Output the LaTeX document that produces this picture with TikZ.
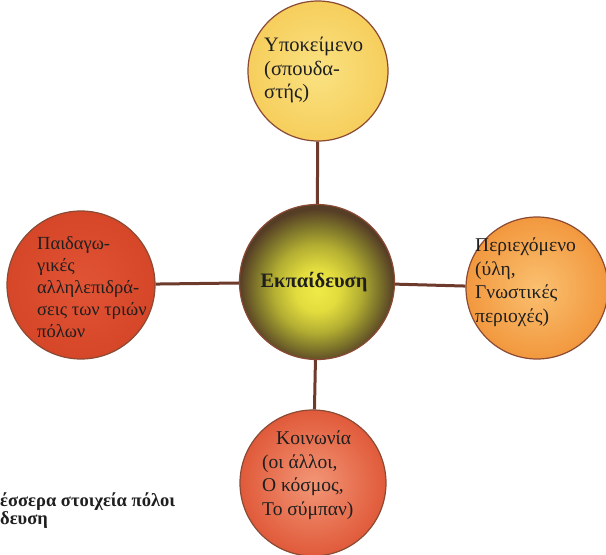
\documentclass[tikz,border=0pt]{standalone}
\usepackage{fontspec}
\setmainfont{Liberation Serif}
\pgfdeclareradialshading{ctrshade}{\pgfpoint{0bp}{-3bp}}{%
  color(0bp)=(rgb,255:red,240;green,234;blue,72);
  color(7bp)=(rgb,255:red,226;green,220;blue,62);
  color(14bp)=(rgb,255:red,180;green,175;blue,50);
  color(20bp)=(rgb,255:red,125;green,116;blue,42);
  color(25bp)=(rgb,255:red,86;green,62;blue,38);
  color(50bp)=(rgb,255:red,86;green,62;blue,38)}
\begin{document}
\begin{tikzpicture}[x=1pt,y=-1pt,
  pole/.style={circle,draw=circbrd,line width=1.2pt,inner sep=0pt,minimum size=#1},
  conn/.style={draw=linebrown,line width=3pt},
  txt/.style={align=left,inner sep=0pt,anchor=west,font=\fontsize{19.5}{23.5}\selectfont,text=black!88}]
\definecolor{linebrown}{HTML}{6E3A2C}
\definecolor{circbrd}{HTML}{8A4A34}
\useasboundingbox (0,0) rectangle (606,555);
\fill[white] (0,0) rectangle (606,555);
% circles
\node[pole=140pt,inner color={rgb,255:red,250;green,226;blue,130},outer color={rgb,255:red,246;green,206;blue,92}] (top) at (318,71) {};
\node[pole=155pt,shading=ctrshade] (ctr) at (317,282) {};
\node[pole=148pt,inner color={rgb,255:red,224;green,84;blue,52},outer color={rgb,255:red,214;green,70;blue,40}] (lft) at (81,285) {};
\node[pole=142pt,inner color={rgb,255:red,250;green,192;blue,112},outer color={rgb,255:red,242;green,152;blue,62}] (rgt) at (537,288) {};
\node[pole=146pt,inner color={rgb,255:red,242;green,150;blue,118},outer color={rgb,255:red,224;green,90;blue,58}] (bot) at (313,483) {};
% connectors
\draw[conn] (ctr) -- (top);
\draw[conn] (ctr) -- (lft);
\draw[conn] (ctr) -- (rgt);
\draw[conn] (ctr) -- (bot);
% texts
\node[txt,font=\fontsize{20.5}{23.5}\selectfont] (ttop) at (264,70) {Υποκείμενο\\(σπουδα-\\στής)};
\node[txt,font=\fontsize{18.5}{22}\selectfont] (tlft) at (37,287) {Παιδαγω-\\γικές\\αλληλεπιδρά-\\σεις των τριών\\πόλων};
\node[txt] (trgt) at (475,282) {Περιεχόμενο\\(ύλη,\\Γνωστικές\\περιοχές)};
\node[txt] (tbot) at (262,475) {\hspace*{14pt}Κοινωνία\\(οι άλλοι,\\Ο κόσμος,\\Το σύμπαν)};
\node[inner sep=0pt,font=\fontsize{20.5}{24}\selectfont\bfseries,text=black!88] (tctr) at (314,282) {Εκπαίδευση};
\node[align=left,inner sep=0pt,anchor=north west,font=\fontsize{18.5}{18}\selectfont\bfseries,text=black!88] (cap) at (0,493) {έσσερα στοιχεία πόλοι\\δευση};
\end{tikzpicture}
\end{document}
